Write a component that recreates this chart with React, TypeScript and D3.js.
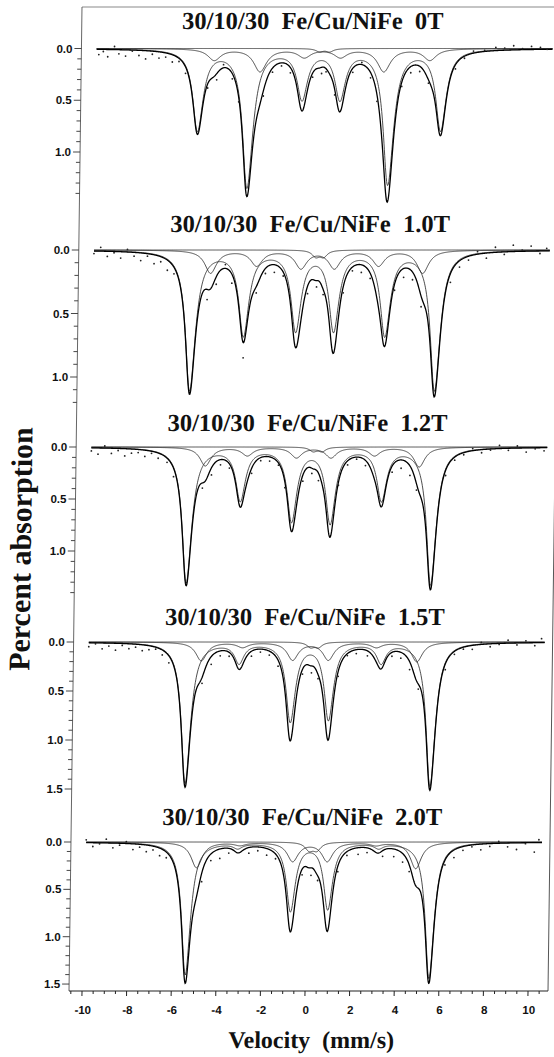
import React, { useEffect, useRef } from "react";
import * as d3 from "d3";

// panel titles (0T, 1.0T, 1.2T, 1.5T, 2.0T)
const panelTitles = [
  "30/10/30  Fe/Cu/NiFe  0T",
  "30/10/30  Fe/Cu/NiFe  1.0T",
  "30/10/30  Fe/Cu/NiFe  1.2T",
  "30/10/30  Fe/Cu/NiFe  1.5T",
  "30/10/30  Fe/Cu/NiFe  2.0T",
];

// sharp sextet: line positions (mm/s), depths (%), half widths
const mainPos = [
  [-5.33, -3.08, -0.66, 1.04, 3.23, 5.57],
  [-5.53, -3.15, -0.81, 0.89, 3.19, 5.45],
  [-5.57, -3.19, -0.88, 0.85, 3.14, 5.39],
  [-5.5, -3.15, -0.82, 0.89, 3.22, 5.48],
  [-5.38, -3.1, -0.7, 0.97, 3.22, 5.55],
];
const mainDepth = [
  [0.78, 1.33, 0.47, 0.47, 1.3, 0.78],
  [1.1, 0.66, 0.62, 0.62, 0.66, 1.1],
  [1.3, 0.5, 0.7, 0.72, 0.5, 1.32],
  [1.44, 0.2, 0.8, 0.78, 0.2, 1.47],
  [1.4, 0.05, 0.72, 0.7, 0.05, 1.44],
];
const mainWidth = [0.28, 0.27, 0.26, 0.25, 0.24];

// broad sextet
const broadPos = [
  [-4.62, -2.56, -0.58, 1.04, 2.99, 5.05],
  [-4.66, -2.6, -0.61, 0.89, 2.87, 4.85],
  [-4.78, -2.9, -0.7, 0.85, 2.8, 4.81],
  [-4.85, -3.0, -0.75, 0.85, 3.0, 4.82],
  [-4.94, -3.0, -0.63, 0.92, 3.1, 4.89],
];
const broadDepth = [
  [0.11, 0.22, 0.08, 0.08, 0.22, 0.11],
  [0.18, 0.12, 0.14, 0.14, 0.12, 0.18],
  [0.18, 0.08, 0.1, 0.1, 0.08, 0.19],
  [0.19, 0.05, 0.18, 0.18, 0.05, 0.2],
  [0.27, 0.03, 0.2, 0.2, 0.03, 0.28],
];
const broadWidth = [0.35, 0.32, 0.3, 0.3, 0.3];

// central doublet
const centerPos = [
  [0.1, 0.55],
  [0.05, 0.4],
  [0.05, 0.45],
  [0.05, 0.4],
  [0.1, 0.45],
];
const centerDepth = [
  [0.03, 0.03],
  [0.05, 0.05],
  [0.04, 0.04],
  [0.05, 0.05],
  [0.08, 0.08],
];
const centerWidth = [0.2, 0.2, 0.2, 0.2, 0.22];

// measured points: velocity and offset from the fitted sum
const dotResiduals = [
  [[-9.8,0.05],[-9.6,0.02],[-9.4,0.07],[-9.1,-0.03],[-8.9,0.04],[-8.6,0.06],[-8.3,0.01],[-8.0,0.05],[-7.7,0.08],[-7.4,0.03],[-7.1,0.06],[-6.8,0.04],[-6.5,0.07],[-6.2,0.03],[-5.9,0.06],[-4.9,0.04],[-4.5,0.06],[-4.2,-0.03],[-3.8,0.05],[-3.5,0.04],[-2.4,0.05],[-2.0,0.04],[-1.6,0.03],[-1.2,0.05],[-0.2,0.04],[0.2,0.06],[0.4,0.03],[0.8,0.05],[1.6,0.04],[2.0,-0.02],[2.4,0.05],[2.7,0.06],[3.8,0.04],[4.2,0.06],[4.6,0.05],[5.0,0.03],[6.2,0.04],[6.6,0.02],[7.0,-0.02],[7.5,-0.01],[8.0,-0.03],[8.4,-0.02],[8.8,-0.04],[9.2,-0.01],[9.6,-0.03],[10.0,-0.02],[10.3,0.0]],
  [[-9.9,0.02],[-9.6,-0.03],[-9.3,0.04],[-9.0,0.01],[-8.7,0.05],[-8.4,-0.02],[-8.1,0.03],[-7.8,0.06],[-7.5,0.02],[-7.2,0.07],[-6.9,0.04],[-6.6,0.08],[-6.3,0.05],[-4.8,0.08],[-4.4,0.06],[-4.0,-0.03],[-3.7,0.07],[-3.15,0.12],[-2.6,0.05],[-2.2,0.04],[-1.8,0.06],[-1.4,0.03],[-0.3,0.06],[0.1,0.05],[0.4,0.04],[1.3,0.05],[1.7,0.03],[2.1,0.06],[2.5,0.04],[3.6,0.05],[4.0,0.07],[4.4,0.06],[4.8,0.08],[6.1,0.07],[6.5,0.05],[6.9,0.03],[7.3,-0.02],[7.7,0.04],[8.1,-0.04],[8.5,0.02],[8.9,-0.05],[9.3,-0.01],[9.7,-0.04],[10.1,0.02],[10.4,-0.02]],
  [[-9.9,0.03],[-9.6,0.06],[-9.3,-0.02],[-9.0,0.05],[-8.7,0.02],[-8.4,0.07],[-8.1,0.04],[-7.8,0.03],[-7.5,0.06],[-7.2,0.02],[-6.9,0.05],[-6.5,0.04],[-6.2,0.08],[-4.9,0.05],[-4.5,0.07],[-4.1,0.05],[-3.7,0.04],[-2.7,0.05],[-2.3,0.03],[-1.9,0.04],[-1.5,0.02],[-1.2,0.05],[-0.4,0.06],[0.0,0.05],[0.3,0.07],[1.2,0.03],[1.6,0.04],[2.0,0.02],[2.4,0.05],[3.6,0.06],[4.0,0.08],[4.4,0.09],[4.7,0.06],[6.0,0.05],[6.4,0.03],[6.8,0.02],[7.2,-0.02],[7.6,0.03],[8.0,0.01],[8.4,-0.03],[8.8,0.02],[9.2,-0.02],[9.6,0.04],[10.0,0.01],[10.4,0.03]],
  [[-9.9,0.04],[-9.6,0.01],[-9.3,0.06],[-9.0,0.03],[-8.7,0.07],[-8.4,0.02],[-8.1,0.05],[-7.8,0.03],[-7.5,0.06],[-7.2,0.04],[-6.9,0.02],[-6.6,0.05],[-6.3,0.07],[-4.8,0.06],[-4.4,0.08],[-4.0,0.05],[-3.6,0.04],[-2.6,0.05],[-2.2,0.03],[-1.8,0.04],[-1.4,0.06],[-0.3,0.05],[0.1,0.07],[0.4,0.04],[1.3,0.05],[1.7,0.02],[2.1,0.04],[2.6,0.05],[3.7,0.04],[4.1,0.06],[4.5,0.08],[4.9,0.05],[6.1,0.06],[6.5,0.03],[6.9,0.02],[7.3,0.04],[7.7,-0.02],[8.1,0.03],[8.5,0.01],[8.9,-0.03],[9.3,0.02],[9.7,-0.02],[10.1,0.03],[10.4,-0.04]],
  [[-9.9,-0.03],[-9.6,0.04],[-9.3,0.01],[-9.0,-0.04],[-8.7,0.05],[-8.4,0.02],[-8.1,-0.02],[-7.8,0.06],[-7.5,0.03],[-7.2,0.07],[-6.9,0.04],[-6.6,0.08],[-6.3,0.06],[-4.7,0.09],[-4.3,0.07],[-3.9,0.1],[-3.5,0.05],[-2.6,0.06],[-2.2,0.04],[-1.8,0.07],[-1.4,0.05],[-0.2,0.06],[0.2,0.08],[0.5,0.05],[1.4,0.06],[1.8,0.04],[2.3,0.07],[2.7,0.05],[3.4,0.06],[3.9,0.08],[4.3,0.09],[4.6,0.07],[6.2,0.05],[6.6,0.08],[7.0,0.04],[7.4,0.02],[7.8,0.06],[8.2,0.03],[8.6,-0.02],[9.0,0.04],[9.4,0.07],[9.8,0.01],[10.2,0.1],[10.4,-0.03]],
];

// y axis: lowest minor tick (in %) and labelled values per panel
const yTickMax = [1.4, 1.2, 1.4, 1.5, 1.5];
const yTickLabels = ["0.0", "0.5", "1.0", "1.5"];
const xTickLabels = [-10, -8, -6, -4, -2, 0, 2, 4, 6, 8, 10];

const W = 554;
const H = 1057;

const lorentz = (v: number, pos: number[], depth: number[], w: number) =>
  pos.reduce((s, p, i) => s + (depth[i] * w * w) / ((v - p) * (v - p) + w * w), 0);

export default function App() {
  const ref = useRef<SVGSVGElement>(null);

  useEffect(() => {
    const svg = d3.select(ref.current);
    svg.selectAll("*").remove();
    svg.append("rect").attr("width", W).attr("height", H).attr("fill", "#fff");

    // the scanned figure leans slightly: left axis drifts ~13px over the height
    const skew = -0.0132;
    const bottom = 991;
    const g = svg
      .append("g")
      .attr("transform", `matrix(1,0,${skew},1,${-skew * bottom},0)`);

    const left = 69;
    const right = 548;
    const top = 7;
    const x = d3.scaleLinear().domain([-10, 10]).range([82, 528]);

    const zeroY = [48.5, 250, 447, 642, 842];
    const unitPx = [103.5, 127, 104, 98, 94.7];
    const titleY = [29, 232, 431, 625, 825];

    const sans = "'Liberation Sans', Arial, sans-serif";
    const serif = "'Liberation Serif', 'Times New Roman', serif";

    // frame
    g.append("line").attr("x1", left).attr("x2", 575).attr("y1", top).attr("y2", top)
      .attr("stroke", "#8a8a8a").attr("stroke-width", 1.2);
    g.append("line").attr("x1", left).attr("x2", left).attr("y1", top).attr("y2", bottom)
      .attr("stroke", "#555").attr("stroke-width", 0.9);
    g.append("line").attr("x1", right).attr("x2", right).attr("y1", top).attr("y2", bottom)
      .attr("stroke", "#444").attr("stroke-width", 0.9);
    g.append("line").attr("x1", left).attr("x2", right).attr("y1", bottom).attr("y2", bottom)
      .attr("stroke", "#222").attr("stroke-width", 1);

    // x ticks
    const minorX = d3.range(-10.5, 10.51, 0.5);
    minorX.forEach((v) => {
      const major = Math.abs(v % 2) < 1e-6;
      g.append("line")
        .attr("x1", x(v)).attr("x2", x(v))
        .attr("y1", bottom).attr("y2", bottom + (major ? 5 : 3))
        .attr("stroke", "#222").attr("stroke-width", 1);
    });
    xTickLabels.forEach((v) => {
      g.append("text")
        .attr("x", x(v) + 1)
        .attr("y", bottom + 23)
        .attr("text-anchor", "middle")
        .attr("font-family", sans)
        .attr("font-weight", "bold")
        .attr("font-size", 11.5)
        .attr("fill", "#111")
        .text(String(v));
    });

    g.append("text")
      .attr("x", 312)
      .attr("y", 1048)
      .attr("text-anchor", "middle")
      .attr("font-family", serif)
      .attr("font-weight", "bold")
      .attr("font-size", 24)
      .style("white-space", "pre")
      .attr("fill", "#111")
      .text("Velocity  (mm/s)");

    g.append("text")
      .attr("transform", `translate(25,549) rotate(-90)`)
      .attr("text-anchor", "middle")
      .attr("font-family", serif)
      .attr("font-weight", "bold")
      .attr("font-size", 30)
      .attr("fill", "#111")
      .text("Percent absorption");

    const vs = d3.range(-9.9, 10.56, 0.02);

    panelTitles.forEach((title, i) => {
      const y = d3.scaleLinear().domain([0, 1]).range([zeroY[i], zeroY[i] + unitPx[i]]);

      // y ticks
      d3.range(0, yTickMax[i] + 0.001, 0.1).forEach((t) => {
        const major = Math.abs((t * 10) % 5) < 1e-6;
        g.append("line")
          .attr("x1", left - (major ? 7 : 4)).attr("x2", left)
          .attr("y1", y(t)).attr("y2", y(t))
          .attr("stroke", "#333").attr("stroke-width", 0.9);
      });
      yTickLabels.forEach((lab) => {
        const t = +lab;
        if (t > yTickMax[i] + 0.001) return;
        g.append("text")
          .attr("x", left - 9)
          .attr("y", y(t))
          .attr("dy", "0.36em")
          .attr("text-anchor", "end")
          .attr("font-family", sans)
          .attr("font-weight", "bold")
          .attr("font-size", 11.5)
          .attr("fill", "#111")
          .text(lab);
      });

      g.append("text")
        .attr("x", 300)
        .attr("y", titleY[i])
        .attr("text-anchor", "middle")
        .attr("font-family", serif)
        .attr("font-weight", "bold")
        .attr("font-size", 24.5)
        .style("white-space", "pre")
        .attr("fill", "#111")
        .text(title);

      const fa = (v: number) => lorentz(v, mainPos[i], mainDepth[i], mainWidth[i]);
      const fb = (v: number) => lorentz(v, broadPos[i], broadDepth[i], broadWidth[i]);
      const fc = (v: number) => lorentz(v, centerPos[i], centerDepth[i], centerWidth[i]);
      const ft = (v: number) => fa(v) + fb(v) + fc(v);

      const line = (f: (v: number) => number) =>
        d3.line<number>().x((v) => x(v)).y((v) => y(f(v)))(vs);

      [fc, fb, fa].forEach((f) => {
        g.append("path").attr("d", line(f)).attr("fill", "none")
          .attr("stroke", "#222").attr("stroke-width", 0.8);
      });
      g.append("path").attr("d", line(ft)).attr("fill", "none")
        .attr("stroke", "#000").attr("stroke-width", 1.3);

      g.append("g")
        .selectAll("circle")
        .data(dotResiduals[i])
        .join("circle")
        .attr("cx", (d) => x(d[0]))
        .attr("cy", (d) => y(ft(d[0]) + d[1]))
        .attr("r", 0.9)
        .attr("fill", "#222");
    });
  }, []);

  return (
    <svg
      ref={ref}
      width={W}
      height={H}
      style={{ position: "absolute", left: 0, top: 0 }}
    />
  );
}
